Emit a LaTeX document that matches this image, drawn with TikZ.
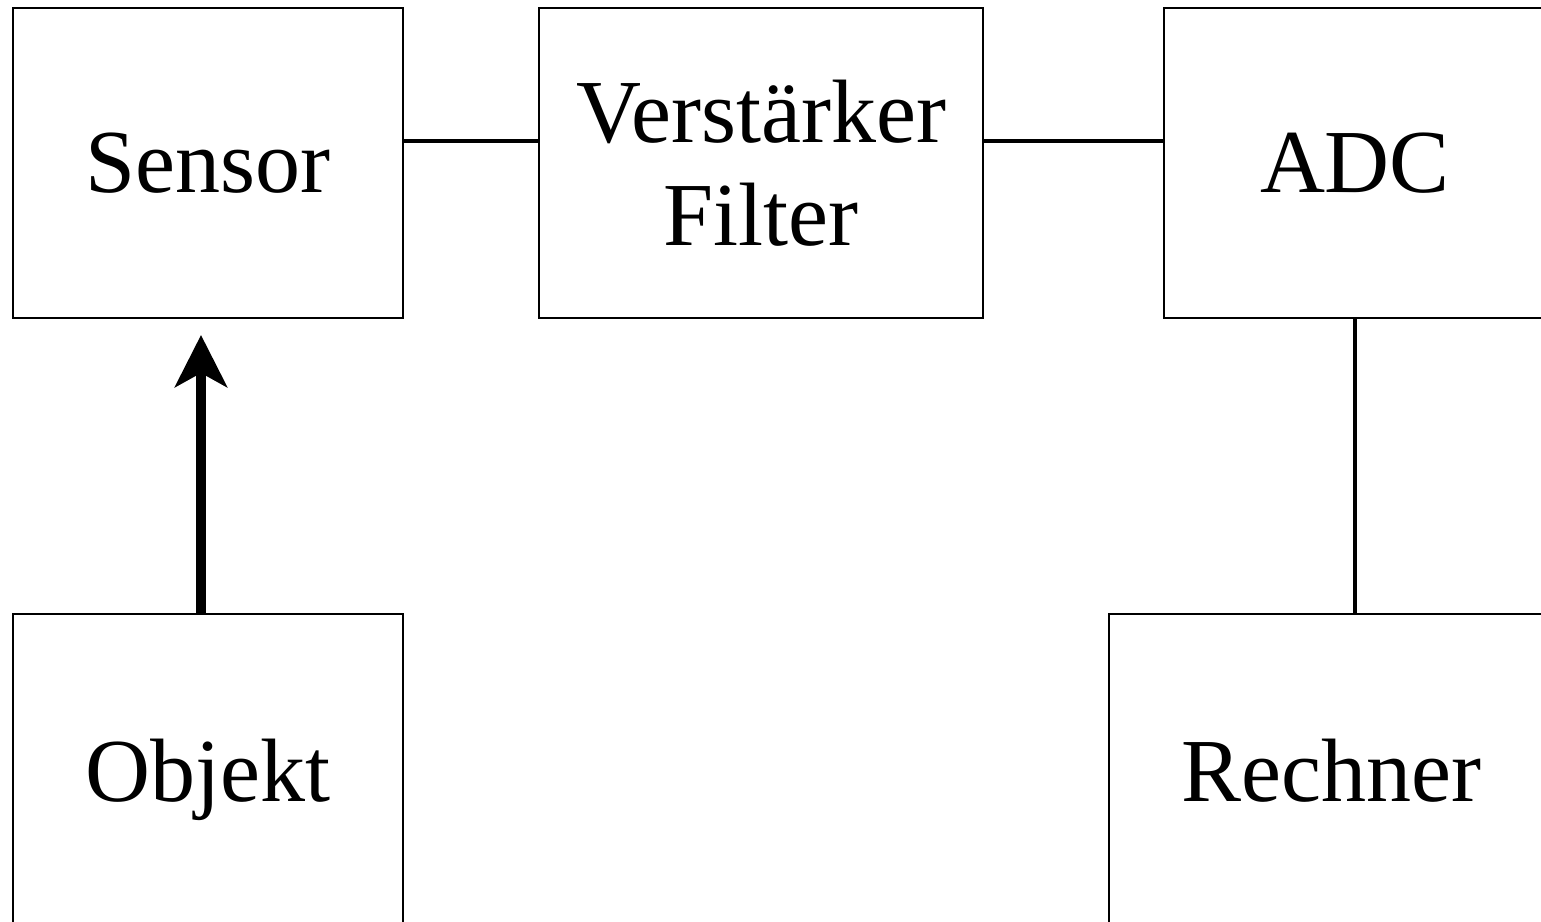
\documentclass[tikz,border=0pt]{standalone}
\usepackage{fontspec}
\setmainfont{Liberation Serif}
\usetikzlibrary{arrows.meta,calc}

\begin{document}
\begin{tikzpicture}[x=0.5pt,y=0.5pt,
    blk/.style={draw,line width=0.75pt,inner sep=0pt,outer sep=0pt,align=center,
      font=\fontsize{45}{51.5}\selectfont,text depth=0pt},
    conn/.style={line width=2pt},
    arr/.style={line width=5pt,-{Stealth[length=26pt,width=26pt,inset=7pt]}}]
    \useasboundingbox (0,0) rectangle (1541,921);
    \clip (0,0) rectangle (1541,921);
    \node[blk,minimum width=195pt,minimum height=155pt] (sensor) at (208,758) {Sensor};
    \node[blk,minimum width=222pt,minimum height=155pt] (verst) at (761,758) {Verstärker\\Filter};
    \node[blk,minimum width=191pt,minimum height=155pt] (adc) at (1355,758) {ADC};
    \node[blk,minimum width=195pt,minimum height=156pt] (objekt) at (208,151) {Objekt};
    \node[blk,minimum width=222pt,minimum height=156pt] (rechner) at (1331,151) {Rechner};

    \draw[conn] ([yshift=11pt]sensor.east) -- ([yshift=11pt]verst.west);
    \draw[conn] ([yshift=11pt]verst.east) -- ([yshift=11pt]adc.west);
    \draw[conn] (adc.south) -- (adc.south |- rechner.north);
    \draw[arr] ([xshift=-3.5pt]objekt.north) -- ([xshift=-3.5pt,yshift=-8.5pt]sensor.south);
\end{tikzpicture}
\end{document}
